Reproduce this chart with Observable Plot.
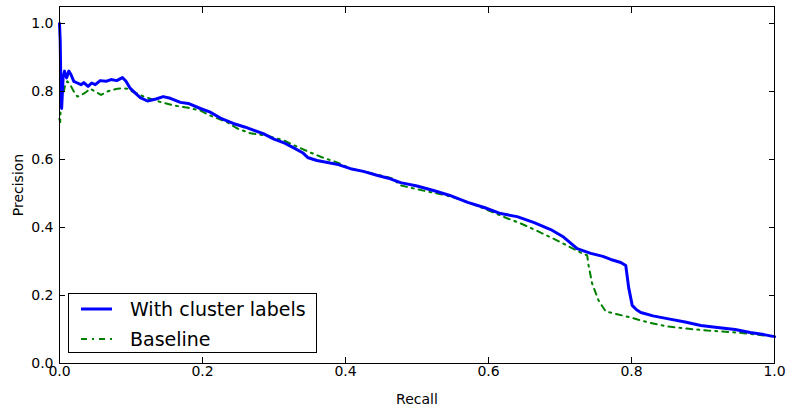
<!DOCTYPE html>
<html>
<head>
<meta charset="utf-8">
<script src="https://cdn.jsdelivr.net/npm/d3@7"></script>
<script src="https://cdn.jsdelivr.net/npm/@observablehq/plot@0.6"></script>
<style>
  html, body { margin: 0; padding: 0; background: #fff; }
  #wrap { position: relative; width: 790px; height: 406px; font-family: "DejaVu Sans", sans-serif; }
  #legend { position: absolute; left: 68px; top: 293px; width: 247px; height: 58px; border: 1px solid #000; background: #fff; }
  .entry { position: absolute; left: 0; height: 26px; display: flex; align-items: center; font-size: 19px; color: #000; white-space: nowrap; }
  .entry svg { margin-left: 12px; margin-right: 18px; }
</style>
</head>
<body>
<div id="wrap">
  <div id="chart"></div>
  <div id="legend">
    <div class="entry" style="top:2px"><svg width="31" height="6"><line x1="0" x2="31" y1="3" y2="3" stroke="#0000ff" stroke-width="3"/></svg><span>With cluster labels</span></div>
    <div class="entry" style="top:32px"><svg width="31" height="6"><line x1="0" x2="31" y1="3" y2="3" stroke="#008000" stroke-width="2" stroke-dasharray="6,5,2,5"/></svg><span>Baseline</span></div>
  </div>
</div>
<script>
const xTicks = [0, 0.2, 0.4, 0.6, 0.8, 1.0];
const yTicks = [0, 0.2, 0.4, 0.6, 0.8, 1.0];

const clusterRecall = [0, .001, .002, .003, .005, .007, .010, .013, .016, .020, .025, .030, .034, .040, .045, .050, .057, .065, .072, .080, .088, .093, .099, .106, .113, .123, .135, .145, .155, .169, .180, .197, .21, .225, .243, .26, .285, .30, .315, .327, .34, .347, .36, .375, .39, .407, .425, .445, .46, .477, .50, .523, .545, .571, .595, .617, .64, .663, .687, .705, .724, .743, .76, .771, .785, .792, .796, .801, .807, .813, .83, .85, .875, .897, .92, .945, .966, .985, 1.0];
const clusterPrecision = [1.0, .95, .80, .75, .84, .86, .84, .86, .85, .83, .825, .82, .826, .815, .825, .82, .832, .83, .835, .832, .841, .83, .809, .795, .782, .772, .778, .785, .78, .768, .765, .75, .74, .722, .706, .695, .676, .66, .648, .635, .62, .606, .597, .591, .585, .573, .565, .553, .545, .532, .522, .509, .495, .474, .458, .441, .432, .415, .394, .372, .338, .324, .315, .306, .297, .288, .224, .171, .158, .15, .14, .132, .122, .112, .106, .1, .091, .085, .079];

const baseRecall = [0, .001, .002, .003, .004, .006, .008, .011, .015, .02, .025, .029, .035, .043, .05, .058, .067, .074, .081, .088, .095, .102, .109, .118, .127, .14, .16, .18, .197, .211, .235, .249, .267, .29, .314, .33, .347, .368, .39, .407, .43, .449, .465, .477, .495, .514, .54, .561, .585, .607, .625, .645, .665, .687, .71, .729, .738, .74, .745, .754, .764, .78, .799, .825, .85, .88, .906, .948, .975, 1.0];
const basePrecision = [.72, .71, .78, .83, .82, .80, .82, .83, .82, .80, .785, .788, .795, .808, .80, .79, .80, .805, .808, .81, .808, .80, .794, .785, .779, .77, .759, .752, .744, .729, .709, .691, .677, .67, .656, .64, .624, .606, .59, .573, .563, .553, .545, .524, .515, .506, .495, .482, .463, .444, .428, .412, .393, .371, .347, .326, .318, .288, .235, .185, .153, .145, .135, .12, .109, .102, .097, .091, .085, .079];

const cluster = clusterRecall.map((r, i) => ({recall: r, precision: clusterPrecision[i]}));
const base = baseRecall.map((r, i) => ({recall: r, precision: basePrecision[i]}));
const fmt = d3.format(".1f");

const chart = Plot.plot({
  width: 790,
  height: 406,
  marginLeft: 59,
  marginRight: 16,
  marginTop: 6,
  marginBottom: 43,
  style: {fontFamily: "DejaVu Sans, sans-serif", fontSize: "14px", color: "#000", background: "#fff"},
  x: {domain: [0, 1], label: null},
  y: {domain: [0, 1.05], label: null},
  marks: [
    Plot.line(base, {x: "recall", y: "precision", stroke: "#008000", strokeWidth: 2, strokeDasharray: "6,5,2,5"}),
    Plot.line(cluster, {x: "recall", y: "precision", stroke: "#0000ff", strokeWidth: 3}),
    Plot.frame({stroke: "#000", strokeWidth: 1}),
    Plot.axisX(xTicks, {anchor: "bottom", tickSize: 0, tickPadding: 3, tickFormat: fmt, fontSize: 14, label: "Recall", labelAnchor: "center", labelOffset: 40, labelArrow: "none"}),
    Plot.axisY(yTicks, {anchor: "left", tickSize: 0, tickPadding: 6, tickFormat: fmt, fontSize: 14, label: "Precision", labelAnchor: "center", labelOffset: 46, labelArrow: "none"}),
    Plot.axisX(xTicks, {anchor: "bottom", tickSize: -6, text: null, label: null}),
    Plot.axisX(xTicks, {anchor: "top", tickSize: -6, text: null, label: null}),
    Plot.axisY(yTicks, {anchor: "left", tickSize: -6, text: null, label: null}),
    Plot.axisY(yTicks, {anchor: "right", tickSize: -6, text: null, label: null})
  ]
});
document.getElementById("chart").appendChild(chart);
</script>
</body>
</html>
